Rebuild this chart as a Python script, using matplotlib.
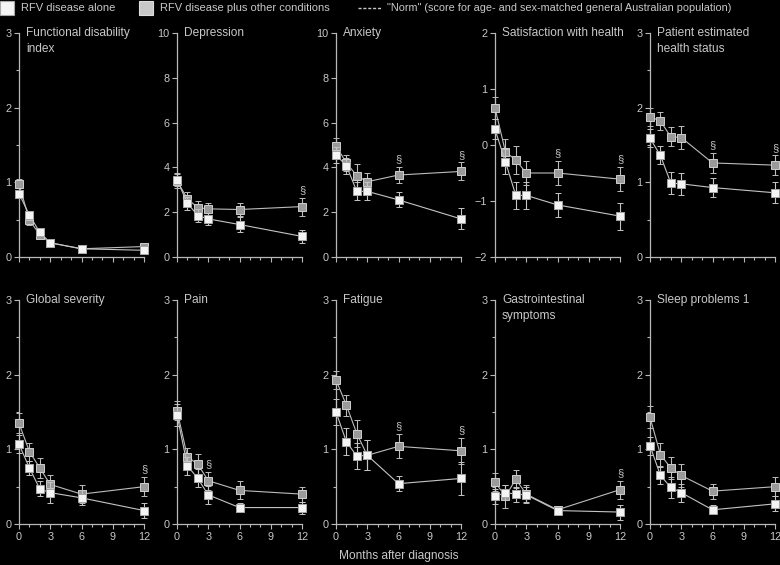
import matplotlib
matplotlib.use("Agg")
import matplotlib.pyplot as plt
from matplotlib.lines import Line2D
from matplotlib.patches import Rectangle
from matplotlib.ticker import MultipleLocator, FixedLocator

plt.rcParams['font.family'] = ['Liberation Sans', 'DejaVu Sans']

months = [0, 1, 2, 3, 6, 12]

titles = ["Functional disability\nindex", "Depression", "Anxiety",
          "Satisfaction with health", "Patient estimated\nhealth status",
          "Global severity", "Pain", "Fatigue",
          "Gastrointestinal\nsymptoms", "Sleep problems 1"]

# RFV disease alone (white squares)
alone = [
    [0.85, 0.56, 0.33, 0.19, 0.11, 0.09],
    [3.45, 2.40, 1.85, 1.70, 1.45, 0.92],
    [4.56, 4.07, 2.93, 2.93, 2.55, 1.70],
    [0.28, -0.30, -0.90, -0.90, -1.07, -1.27],
    [1.59, 1.36, 0.99, 0.98, 0.93, 0.86],
    [1.07, 0.75, 0.47, 0.42, 0.35, 0.18],
    [1.46, 0.78, 0.61, 0.39, 0.22, 0.22],
    [1.50, 1.10, 0.91, 0.92, 0.54, 0.61],
    [0.37, 0.42, 0.40, 0.39, 0.18, 0.16],
    [1.05, 0.65, 0.49, 0.42, 0.19, 0.27],
]
alone_err = [
    [0.05, 0.06, 0.05, 0.04, 0.03, 0.03],
    [0.30, 0.28, 0.28, 0.28, 0.33, 0.30],
    [0.35, 0.35, 0.40, 0.40, 0.33, 0.47],
    [0.18, 0.22, 0.24, 0.24, 0.22, 0.24],
    [0.12, 0.12, 0.15, 0.15, 0.13, 0.14],
    [0.12, 0.10, 0.10, 0.14, 0.10, 0.10],
    [0.15, 0.12, 0.12, 0.12, 0.06, 0.08],
    [0.18, 0.18, 0.18, 0.20, 0.10, 0.22],
    [0.10, 0.10, 0.10, 0.10, 0.05, 0.10],
    [0.12, 0.12, 0.14, 0.12, 0.06, 0.10],
]
# RFV disease plus other conditions (grey squares)
plus = [
    [0.98, 0.49, 0.30, 0.19, 0.11, 0.14],
    [3.40, 2.60, 2.20, 2.15, 2.12, 2.25],
    [4.96, 4.20, 3.63, 3.36, 3.66, 3.82],
    [0.66, -0.12, -0.27, -0.50, -0.50, -0.61],
    [1.88, 1.82, 1.61, 1.60, 1.26, 1.23],
    [1.35, 0.97, 0.75, 0.53, 0.40, 0.50],
    [1.52, 0.90, 0.80, 0.58, 0.45, 0.40],
    [1.93, 1.59, 1.21, 0.92, 1.04, 0.98],
    [0.56, 0.37, 0.60, 0.40, 0.19, 0.46],
    [1.43, 0.93, 0.75, 0.65, 0.44, 0.50],
]
plus_err = [
    [0.06, 0.06, 0.05, 0.04, 0.03, 0.04],
    [0.30, 0.30, 0.28, 0.28, 0.30, 0.40],
    [0.35, 0.35, 0.50, 0.40, 0.37, 0.40],
    [0.20, 0.22, 0.25, 0.22, 0.22, 0.22],
    [0.12, 0.12, 0.13, 0.15, 0.13, 0.13],
    [0.13, 0.12, 0.13, 0.12, 0.12, 0.13],
    [0.13, 0.12, 0.14, 0.12, 0.12, 0.10],
    [0.12, 0.14, 0.18, 0.20, 0.16, 0.17],
    [0.12, 0.15, 0.12, 0.12, 0.05, 0.12],
    [0.15, 0.15, 0.15, 0.15, 0.10, 0.13],
]
# months flagged with a section sign (above the grey series)
flags = [[], [12], [6, 12], [6, 12], [6, 12], [12], [3], [6, 12], [12], []]

ylims = [(0, 3), (0, 10), (0, 10), (-2, 2), (0, 3),
         (0, 3), (0, 3), (0, 3), (0, 3), (0, 3)]
ymajor = [1, 2, 2, 1, 1, 1, 1, 1, 1, 1]
yminor = [0.5, None, None, None, 0.5, 0.5, 0.5, 0.5, 0.5, 0.5]

TXT = '#c8c8c8'
AX = '#b8b8b8'
BG = 'black'

fig = plt.figure(figsize=(7.8, 5.65), dpi=100, facecolor=BG)
W, H = 780.0, 565.0
lefts = [19, 177, 336, 495, 650]
aw = 125
rows = [(33, 257), (300, 524)]

for i in range(10):
    r, c = divmod(i, 5)
    top, bot = rows[r]
    ax = fig.add_axes([lefts[c] / W, 1 - bot / H, aw / W, (bot - top) / H])
    ax.set_facecolor(BG)
    for s in ['top', 'right']:
        ax.spines[s].set_visible(False)
    for s in ['left', 'bottom']:
        ax.spines[s].set_color(AX)
        ax.spines[s].set_linewidth(0.9)
    ax.set_xlim(0, 12)
    ax.set_ylim(*ylims[i])
    ax.xaxis.set_major_locator(FixedLocator([0, 3, 6, 9, 12]))
    ax.xaxis.set_minor_locator(MultipleLocator(1))
    ax.yaxis.set_major_locator(MultipleLocator(ymajor[i]))
    if yminor[i]:
        ax.yaxis.set_minor_locator(MultipleLocator(yminor[i]))
    ax.tick_params(which='both', colors=AX, labelcolor=TXT, labelsize=7.8,
                   width=0.8, direction='out')
    ax.tick_params(which='major', length=3.5, pad=2)
    ax.tick_params(which='minor', length=2.5)
    if r == 0:
        ax.tick_params(axis='x', labelbottom=False)

    # grey series first, white on top
    ax.errorbar(months, plus[i], yerr=plus_err[i], fmt='-s', color='#bcbcbc',
                lw=0.8, elinewidth=0.8, capsize=2.2, capthick=0.8,
                markersize=5.5, markerfacecolor='#9a9a9a',
                markeredgecolor='#cfcfcf', markeredgewidth=0.7,
                clip_on=False, zorder=3)
    ax.errorbar(months, alone[i], yerr=alone_err[i], fmt='-s', color='#c4c4c4',
                lw=0.8, elinewidth=0.8, capsize=2.2, capthick=0.8,
                markersize=5.5, markerfacecolor='#f4f4f4',
                markeredgecolor='#a8a8a8', markeredgewidth=0.7,
                clip_on=False, zorder=4)
    for m in flags[i]:
        k = months.index(m)
        ax.annotate('§', xy=(m, plus[i][k] + plus_err[i][k]), xytext=(0, 2),
                    textcoords='offset points', ha='center', va='bottom',
                    color=TXT, fontsize=8, annotation_clip=False)

    ax.annotate(titles[i], xy=(0, 1), xycoords='axes fraction',
                xytext=(5, 4), textcoords='offset points', ha='left', va='top',
                color=TXT, fontsize=8.6, linespacing=1.35)

# legend across the top
fig.patches.append(Rectangle((0 / W, 1 - 15 / H), 14 / W, 14 / H,
                             transform=fig.transFigure, facecolor='#f4f4f4',
                             edgecolor='#a8a8a8', lw=0.8))
fig.text(21 / W, 1 - 8 / H, 'RFV disease alone', color=TXT, fontsize=8,
         va='center', ha='left')
fig.patches.append(Rectangle((139 / W, 1 - 15 / H), 14 / W, 14 / H,
                             transform=fig.transFigure, facecolor='#c8c8c8',
                             edgecolor='#dddddd', lw=0.8))
fig.text(160 / W, 1 - 8 / H, 'RFV disease plus other conditions', color=TXT,
         fontsize=8, va='center', ha='left')
fig.lines.append(Line2D([358 / W, 382 / W], [1 - 8 / H, 1 - 8 / H],
                        transform=fig.transFigure, color=TXT, lw=1.0,
                        linestyle=(0, (2.2, 1.3))))
fig.text(387 / W, 1 - 8 / H,
         '"Norm" (score for age- and sex-matched general Australian population)',
         color=TXT, fontsize=7.85, va='center', ha='left')

fig.text(399 / W, 1 - 556 / H, 'Months after diagnosis', color=TXT,
         fontsize=8.6, ha='center', va='center')

fig.savefig('out.png', dpi=100, facecolor=BG)
